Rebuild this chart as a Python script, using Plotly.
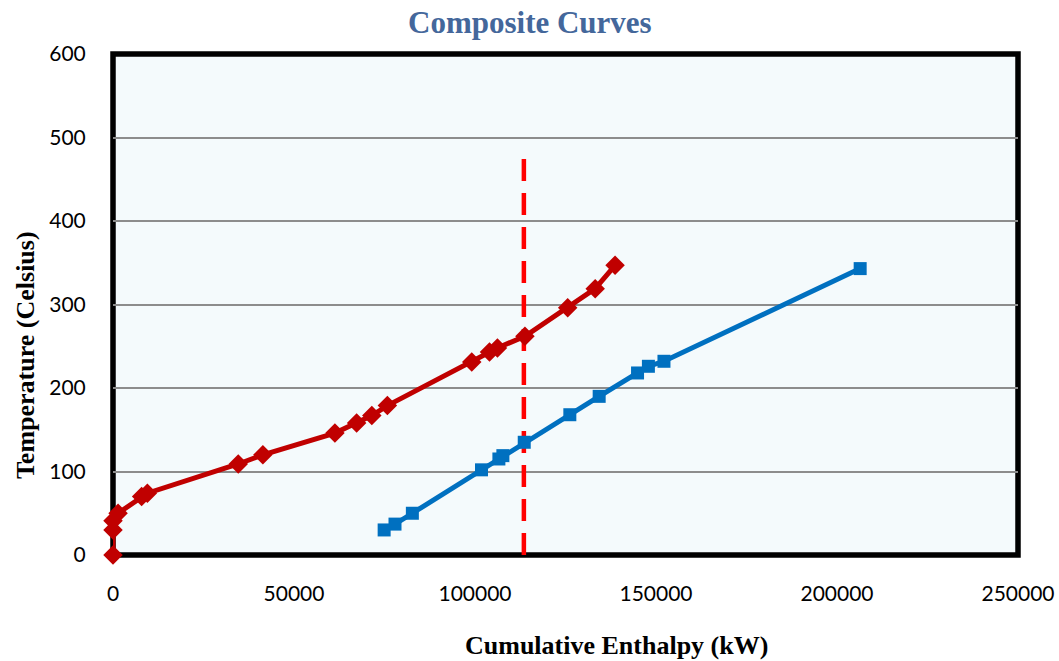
import plotly.graph_objects as go

# Hot composite curve (cumulative enthalpy kW, temperature °C)
hot_h = [0, 0, 0, 1400, 7900, 9500, 34600, 41400, 61300, 67300, 71500, 75800,
         99100, 104000, 106200, 113800, 125600, 133200, 138700]
hot_t = [0, 30, 41, 50, 70, 74, 109, 120, 146, 158, 167, 179,
         231, 243, 248, 262, 296, 319, 347]

# Cold composite curve
cold_h = [74900, 77900, 82700, 101800, 106600, 107700, 113600, 126200,
          134300, 144900, 147900, 152200, 206400]
cold_t = [30, 37, 50, 102, 115, 119, 135, 168, 190, 218, 226, 232, 343]

# Pinch marker line
pinch_h = [113500, 113500]
pinch_t = [0, 483]

fig = go.Figure()
fig.add_trace(go.Scatter(
    x=pinch_h, y=pinch_t, mode="lines",
    line=dict(color="#FF0000", width=4.5, dash="22px,12px"),
    showlegend=False, hoverinfo="skip", cliponaxis=False))
fig.add_trace(go.Scatter(
    x=hot_h, y=hot_t, mode="lines+markers",
    line=dict(color="#C00000", width=5),
    marker=dict(symbol="diamond", size=15, color="#C00000"),
    showlegend=False, cliponaxis=False))
fig.add_trace(go.Scatter(
    x=cold_h, y=cold_t, mode="lines+markers",
    line=dict(color="#0070C0", width=5),
    marker=dict(symbol="square", size=13, color="#0070C0"),
    showlegend=False, cliponaxis=False))

tick_font = dict(family="Lato, Carlito, Arial", size=21, color="#000000")
title_font = dict(family="Liberation Serif, Times New Roman, serif", size=26, color="#000000")

fig.update_layout(
    width=1059, height=661,
    margin=dict(l=113, r=41, t=54, b=106),
    paper_bgcolor="#FFFFFF",
    plot_bgcolor="#F4FAFC",
    xaxis=dict(range=[0, 250000], dtick=50000, tick0=0, showgrid=False,
               zeroline=False, showline=False, tickfont=tick_font,
               ticks="outside", ticklen=20, tickcolor="rgba(0,0,0,0)",
               tickformat="d", automargin=False),
    yaxis=dict(range=[0, 600], dtick=100, tick0=0, showgrid=True,
               gridcolor="#8C8C8C", gridwidth=2, zeroline=False,
               showline=False, tickfont=tick_font,
               ticks="outside", ticklen=22, tickcolor="rgba(0,0,0,0)",
               automargin=False),
    shapes=[dict(type="rect", xref="paper", yref="paper", x0=0, x1=1, y0=0, y1=1,
                 line=dict(color="#000000", width=5.5), fillcolor="rgba(0,0,0,0)",
                 layer="below")],
    annotations=[
        dict(text="<b>Composite Curves</b>", xref="paper", yref="paper",
             x=0.461, y=1.0, yshift=32, xanchor="center", yanchor="middle",
             showarrow=False,
             font=dict(family="Liberation Serif, Times New Roman, serif",
                       size=31, color="#44679B")),
        dict(text="<b>Cumulative Enthalpy (kW)</b>", xref="paper", yref="paper",
             x=0.556, y=0, yshift=-90, xanchor="center", yanchor="middle",
             showarrow=False, font=title_font),
        dict(text="<b>Temperature (Celsius)</b>", xref="paper", yref="paper",
             x=0, xshift=-88, y=0.399, xanchor="center", yanchor="middle",
             textangle=-90, showarrow=False, font=title_font),
    ],
)

fig.write_html("out.html")
